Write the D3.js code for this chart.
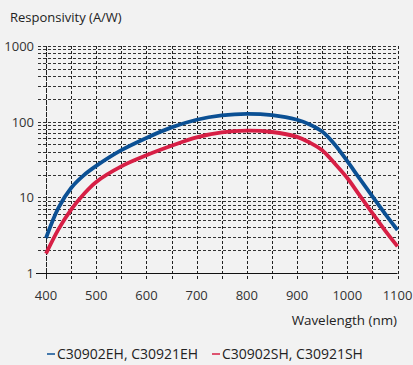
<!DOCTYPE html>
<html>
<head>
<meta charset="utf-8">
<script src="https://cdn.jsdelivr.net/npm/d3@7"></script>
<style>
  body { margin: 0; background: #f2f2f2; }
  svg { display: block; font-family: "Open Sans", "Noto Sans", sans-serif; }
</style>
</head>
<body>
<div id="chart-area"></div>
<script>
// data
var wavelengths = [400, 425, 450, 475, 500, 550, 600, 650, 700, 750, 800, 850, 900, 925, 950, 975, 1000, 1025, 1050, 1075, 1100];
var ehValues = [2.9, 7.3, 13.3, 19.5, 26, 42, 61, 84, 106, 121, 127, 122, 106, 92, 74, 50, 30, 17.5, 10.3, 6.1, 3.7];
var shValues = [1.8, 3.8, 6.9, 11, 16, 25.7, 36, 48, 62, 72, 76, 73, 63, 53, 42, 28, 18, 10.5, 6.2, 3.66, 2.25];
var xTicks = [400, 500, 600, 700, 800, 900, 1000, 1100];
var yTicks = [1, 10, 100, 1000];
var seriesNames = ["C30902EH, C30921EH", "C30902SH, C30921SH"];
var seriesColors = ["#0b5094", "#d71f45"];

var width = 413;
var height = 365;

var svg = d3.select("#chart-area")
    .append("svg")
    .attr("width", width)
    .attr("height", height);

var x = d3.scaleLinear()
    .domain([400, 1100])
    .range([46, 397.5]);

var y = d3.scaleLog()
    .domain([1, 1000])
    .range([273, 46]);

// grid: every 50 nm, log minor lines
var xGrid = d3.range(400, 1101, 50);
var yGrid = [];
[1, 10, 100].forEach(function(dec) {
    for (var i = 2; i <= 10; i++) yGrid.push(dec * i);
});

var grid = svg.append("g").attr("class", "grid");

grid.selectAll("line.h")
    .data(yGrid)
    .enter().append("line")
    .attr("class", "h")
    .attr("x1", 38)
    .attr("x2", x(1100))
    .attr("y1", function(d) { return Math.round(y(d)) + 0.5; })
    .attr("y2", function(d) { return Math.round(y(d)) + 0.5; })
    .attr("stroke", "#333")
    .attr("stroke-width", 1)
    .attr("stroke-dasharray", "3,2");

grid.selectAll("line.v")
    .data(xGrid)
    .enter().append("line")
    .attr("class", "v")
    .attr("x1", function(d) { return Math.round(x(d)) + 0.5; })
    .attr("x2", function(d) { return Math.round(x(d)) + 0.5; })
    .attr("y1", y(1000))
    .attr("y2", y(1) + 6)
    .attr("stroke", "#222")
    .attr("stroke-width", 1)
    .attr("stroke-dasharray", function(d) { return d == 400 ? "5,1" : "3,2"; });

// bottom axis line
svg.append("line")
    .attr("x1", 36)
    .attr("x2", x(1100))
    .attr("y1", Math.round(y(1)) + 0.5)
    .attr("y2", Math.round(y(1)) + 0.5)
    .attr("stroke", "#111")
    .attr("stroke-width", 1.2);

// tick labels
svg.selectAll("text.ylab")
    .data(yTicks)
    .enter().append("text")
    .attr("class", "ylab")
    .attr("x", 34)
    .attr("y", function(d) { return y(d) + 5; })
    .attr("text-anchor", "end")
    .attr("font-size", "13px")
    .attr("fill", "#333")
    .text(function(d) { return d; });

svg.selectAll("text.xlab")
    .data(xTicks)
    .enter().append("text")
    .attr("class", "xlab")
    .attr("x", function(d) { return x(d); })
    .attr("y", 300)
    .attr("text-anchor", "middle")
    .attr("font-size", "13px")
    .attr("fill", "#333")
    .text(function(d) { return d; });

svg.append("text")
    .attr("x", 10)
    .attr("y", 22)
    .attr("font-size", "13px")
    .attr("fill", "#222")
    .text("Responsivity (A/W)");

svg.append("text")
    .attr("x", 397)
    .attr("y", 325)
    .attr("text-anchor", "end")
    .attr("font-size", "13.4px")
    .attr("fill", "#222")
    .text("Wavelength (nm)");

// curves
var series = [ehValues, shValues];
var line = d3.line()
    .x(function(d, i) { return x(wavelengths[i]); })
    .y(function(d) { return y(d); })
    .curve(d3.curveCatmullRom.alpha(0.5));

svg.selectAll("path.curve")
    .data(series)
    .enter().append("path")
    .attr("class", "curve")
    .attr("d", line)
    .attr("fill", "none")
    .attr("stroke", function(d, i) { return seriesColors[i]; })
    .attr("stroke-width", 3.8)
    .attr("stroke-linecap", "butt");

// legend
var legendX = [47, 212];
var legend = svg.selectAll("g.legend")
    .data(seriesNames)
    .enter().append("g")
    .attr("class", "legend")
    .attr("transform", function(d, i) { return "translate(" + legendX[i] + ",354)"; });

legend.append("line")
    .attr("x1", 0)
    .attr("x2", 8)
    .attr("stroke", function(d, i) { return seriesColors[i]; })
    .attr("stroke-width", 1.5);

legend.append("text")
    .attr("x", 10)
    .attr("y", 5)
    .attr("font-size", "14px")
    .attr("fill", "#222")
    .text(function(d) { return d; });
</script>
</body>
</html>
